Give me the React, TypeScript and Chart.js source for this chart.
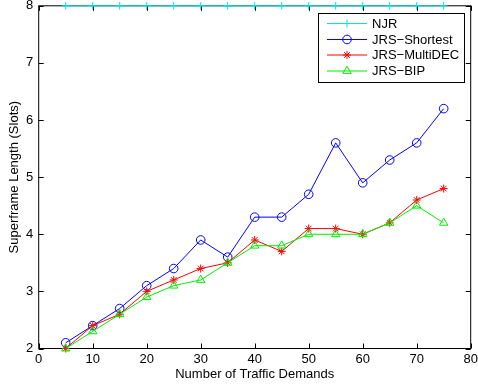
import React, { useEffect, useRef } from "react";
import { Chart, registerables } from "chart.js";

Chart.register(...registerables);

const xValues = [5, 10, 15, 20, 25, 30, 35, 40, 45, 50, 55, 60, 65, 70, 75];
const njr = [8, 8, 8, 8, 8, 8, 8, 8, 8, 8, 8, 8, 8, 8, 8];
const shortest = [2.1, 2.4, 2.7, 3.1, 3.4, 3.9, 3.6, 4.3, 4.3, 4.7, 5.6, 4.9, 5.3, 5.6, 6.2];
const multiDec = [2.0, 2.4, 2.6, 3.0, 3.2, 3.4, 3.5, 3.9, 3.7, 4.1, 4.1, 4.0, 4.2, 4.6, 4.8];
const bip = [2.0, 2.3, 2.6, 2.9, 3.1, 3.2, 3.5, 3.8, 3.8, 4.0, 4.0, 4.0, 4.2, 4.5, 4.2];
const seriesNames = ["NJR", "JRS\u2212Shortest", "JRS\u2212MultiDEC", "JRS\u2212BIP"];
const xTicks = [0, 10, 20, 30, 40, 50, 60, 70, 80];
const yTicks = [2, 3, 4, 5, 6, 7, 8];

const FONT = "'Liberation Sans', Arial, Helvetica, sans-serif";
const colors = ["#00e4e4", "#0000ff", "#ff0000", "#00ee00"];
const styles: any[] = ["cross", "circle", "star", "triangle"];
const radii = [3.8, 4.3, 4, 4.8];

const toPts = (ys: number[]) => xValues.map((x, i) => ({ x, y: ys[i] }));

function marker(ctx: CanvasRenderingContext2D, style: string, r: number, x: number, y: number, color: string) {
  ctx.save();
  ctx.strokeStyle = color;
  ctx.lineWidth = 1;
  ctx.beginPath();
  if (style === "circle") {
    ctx.arc(x, y, r, 0, Math.PI * 2);
  } else if (style === "cross") {
    ctx.moveTo(x - r, y); ctx.lineTo(x + r, y);
    ctx.moveTo(x, y - r); ctx.lineTo(x, y + r);
  } else if (style === "star") {
    const d = r * Math.SQRT1_2;
    ctx.moveTo(x - r, y); ctx.lineTo(x + r, y);
    ctx.moveTo(x, y - r); ctx.lineTo(x, y + r);
    ctx.moveTo(x - d, y - d); ctx.lineTo(x + d, y + d);
    ctx.moveTo(x - d, y + d); ctx.lineTo(x + d, y - d);
  } else if (style === "triangle") {
    let a = 0;
    ctx.moveTo(x + Math.sin(a) * r, y - Math.cos(a) * r);
    a += (2 * Math.PI) / 3;
    ctx.lineTo(x + Math.sin(a) * r, y - Math.cos(a) * r);
    a += (2 * Math.PI) / 3;
    ctx.lineTo(x + Math.sin(a) * r, y - Math.cos(a) * r);
    ctx.closePath();
  }
  ctx.stroke();
  ctx.restore();
}

const framePlugin = {
  id: "frame",
  beforeDatasetsDraw(chart: any) {
    const { ctx, chartArea: a, scales } = chart;
    ctx.save();
    ctx.strokeStyle = "#000";
    ctx.lineWidth = 1;
    ctx.strokeRect(a.left, a.top, a.right - a.left, a.bottom - a.top);
    ctx.beginPath();
    const tl = 5;
    xTicks.forEach((v) => {
      const px = Math.round(scales.x.getPixelForValue(v)) + 0.5;
      ctx.moveTo(px, a.bottom);
      ctx.lineTo(px, a.bottom - tl);
      ctx.moveTo(px, a.top);
      ctx.lineTo(px, a.top + tl);
    });
    yTicks.forEach((v) => {
      const py = Math.round(scales.y.getPixelForValue(v)) + 0.5;
      ctx.moveTo(a.left, py);
      ctx.lineTo(a.left + tl, py);
      ctx.moveTo(a.right, py);
      ctx.lineTo(a.right - tl, py);
    });
    ctx.stroke();
    ctx.restore();
  },
  afterDraw(chart: any) {
    const { ctx } = chart;
    const bx = 318.5, by = 13.5, bw = 146, bh = 69;
    ctx.save();
    ctx.fillStyle = "#fff";
    ctx.fillRect(bx, by, bw, bh);
    ctx.strokeStyle = "#000";
    ctx.lineWidth = 1;
    ctx.strokeRect(bx, by, bw, bh);
    const rows = [23.5, 39.5, 55, 71];
    seriesNames.forEach((name, i) => {
      const y = rows[i];
      ctx.strokeStyle = colors[i];
      ctx.lineWidth = 1;
      ctx.beginPath();
      ctx.moveTo(327, y);
      ctx.lineTo(367, y);
      ctx.stroke();
      marker(ctx, styles[i], radii[i], 347, y, colors[i]);
      ctx.fillStyle = "#000";
      ctx.font = `13px ${FONT}`;
      ctx.textBaseline = "middle";
      ctx.textAlign = "left";
      ctx.fillText(name, 372, y + 0.5);
    });
    ctx.restore();
  },
};

export default function App() {
  const ref = useRef<HTMLCanvasElement | null>(null);
  useEffect(() => {
    if (!ref.current) return;
    const datasets = [njr, shortest, multiDec, bip].map((d, i) => ({
      label: seriesNames[i],
      data: toPts(d),
      borderColor: colors[i],
      backgroundColor: "rgba(0,0,0,0)",
      pointBorderColor: colors[i],
      pointBackgroundColor: "rgba(0,0,0,0)",
      pointStyle: styles[i],
      pointRadius: radii[i],
      pointBorderWidth: 1,
      borderWidth: 1,
      tension: 0,
      clip: false as any,
      order: 4 - i,
    }));
    const chart = new Chart(ref.current, {
      type: "line",
      data: { datasets },
      plugins: [framePlugin],
      options: {
        animation: false,
        responsive: false,
        devicePixelRatio: 1,
        layout: { padding: { top: 5.5, right: 7.3, left: 0, bottom: 0 } },
        plugins: { legend: { display: false }, tooltip: { enabled: false } },
        scales: {
          x: {
            type: "linear",
            min: 0,
            max: 80,
            afterFit: (s: any) => { s.height = 41.5; s.paddingLeft = 0; s.paddingRight = 0; },
            afterBuildTicks: (s: any) => { s.ticks = xTicks.map((v) => ({ value: v })); },
            grid: { display: false, drawTicks: false },
            border: { display: false },
            ticks: { color: "#000", padding: 3, font: { family: FONT, size: 13 } },
            title: {
              display: true,
              text: "Number of Traffic Demands",
              color: "#000",
              font: { family: FONT, size: 13 },
              padding: { top: 0, bottom: 8 },
            },
          },
          y: {
            type: "linear",
            min: 2,
            max: 8,
            afterFit: (s: any) => { s.width = 38.7; s.paddingTop = 0; s.paddingBottom = 0; },
            afterBuildTicks: (s: any) => { s.ticks = yTicks.map((v) => ({ value: v })); },
            grid: { display: false, drawTicks: false },
            border: { display: false },
            ticks: { color: "#000", padding: 5.5, font: { family: FONT, size: 13 } },
            title: {
              display: true,
              text: "Superframe Length (Slots)",
              color: "#000",
              font: { family: FONT, size: 13 },
              padding: { top: 7, bottom: 0 },
            },
          },
        },
      },
    } as any);
    return () => chart.destroy();
  }, []);
  return (
    <div style={{ position: "fixed", left: 0, top: 0, width: 478, height: 390, background: "#fff" }}>
      <canvas ref={ref} width={478} height={390} style={{ width: 478, height: 390, display: "block" }} />
    </div>
  );
}
